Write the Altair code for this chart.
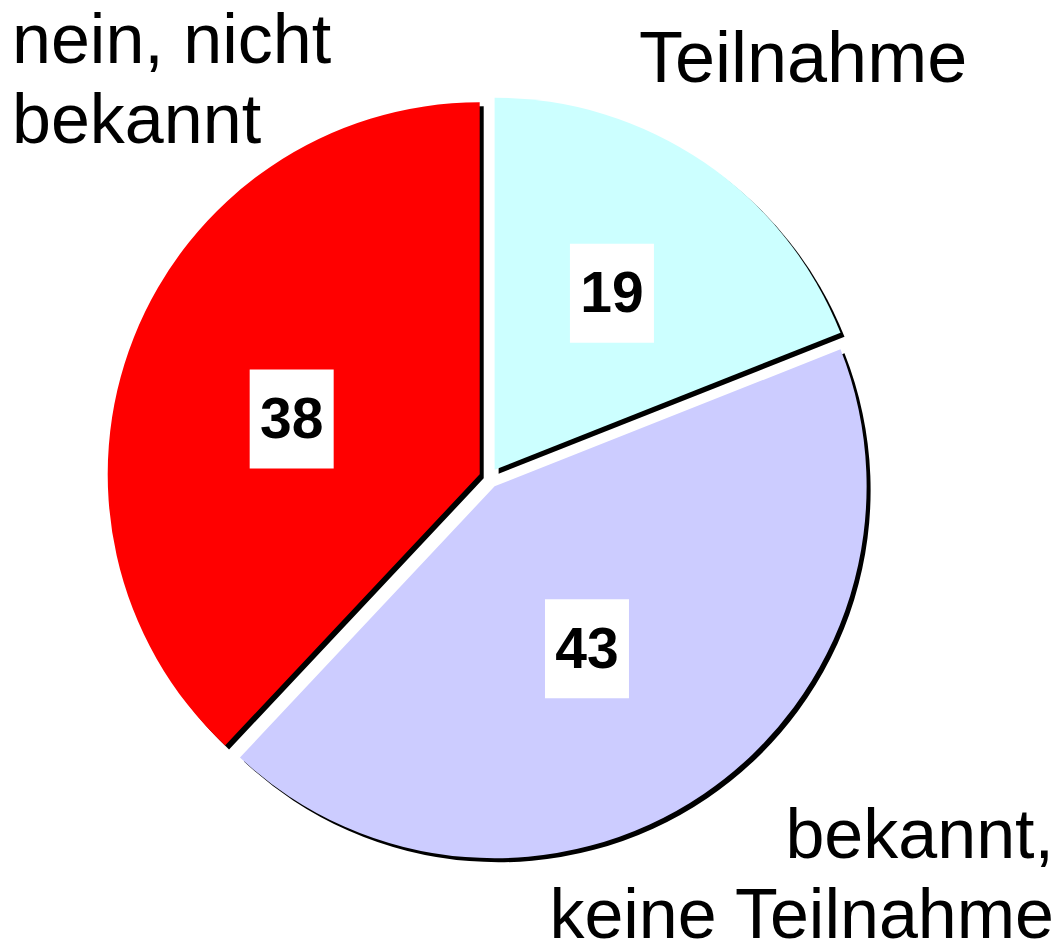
import math
import altair as alt
import pandas as pd

# ---- data ----
categories = ["Teilnahme", "bekannt, keine Teilnahme", "nein, nicht bekannt"]
display_labels = ["Teilnahme", "bekannt,\nkeine Teilnahme", "nein, nicht\nbekannt"]
values = [19, 43, 38]
colors = ["#CCFFFF", "#CCCCFF", "#FF0000"]

df = pd.DataFrame({"cat": categories, "value": values, "idx": list(range(len(values)))})

# ---- style / geometry ----
W, H = 1048, 936
CX, CY, R = 481, 470, 372
EXPLODE = 10
SHADOW = 4
LABEL_DIST = [212, 187, 196]      # distance of each value box from its slice tip
LABEL_TURN = [-0.6, 4.6, -5.2]    # small angular nudge (degrees) of each value box
BOX_W, BOX_H = 84, 99
FONT = "Liberation Sans"

# explosion direction of every slice (from its mid angle)
total = sum(values)
mids = []
acc = 0
for v in values:
    mids.append((acc + v / 2) / total * 2 * math.pi)
    acc += v

# offset of the pie centre from the default (middle of the plot)
OX, OY = CX - W / 2, CY - H / 2

theta_enc = alt.Theta("value:Q", stack=True)
order_enc = alt.Order("idx:Q")
color_enc = alt.Color("cat:N", scale=alt.Scale(domain=categories, range=colors), legend=None)

pie = alt.Chart(df)

shadow_layers = []
slice_layers = []
for i, m in enumerate(mids):
    dx = EXPLODE * math.sin(m)
    dy = -EXPLODE * math.cos(m)
    only_i = alt.condition(alt.datum.idx == i, alt.value(1), alt.value(0))
    shadow_layers.append(
        pie.mark_arc(radius=R, color="black",
                     xOffset=OX + dx + SHADOW, yOffset=OY + dy + SHADOW)
        .encode(theta=theta_enc, order=order_enc, opacity=only_i)
    )
    slice_layers.append(
        pie.mark_arc(radius=R, xOffset=OX + dx, yOffset=OY + dy)
        .encode(theta=theta_enc, order=order_enc, color=color_enc, opacity=only_i)
    )

dist_expr = "[" + ",".join(str(d) for d in LABEL_DIST) + "][datum.idx]"
turn_expr = "[" + ",".join(str(t) for t in LABEL_TURN) + "][datum.idx] * PI / 180"

lab = (
    alt.Chart(df)
    .transform_window(cum="sum(value)", sort=[alt.SortField("idx")], frame=[None, 0])
    .transform_joinaggregate(total="sum(value)")
    .transform_calculate(mid="(datum.cum - datum.value/2) / datum.total * 2 * PI")
    .transform_calculate(la=f"datum.mid + {turn_expr}", ld=dist_expr)
    .transform_calculate(
        lx=f"{CX} + {EXPLODE} * sin(datum.mid) + datum.ld * sin(datum.la)",
        ly=f"{CY} - {EXPLODE} * cos(datum.mid) - datum.ld * cos(datum.la)",
    )
    .transform_calculate(
        bx1=f"datum.lx - {BOX_W / 2}",
        bx2=f"datum.lx + {BOX_W / 2}",
        by1=f"datum.ly - {BOX_H / 2}",
        by2=f"datum.ly + {BOX_H / 2}",
    )
)

boxes = lab.mark_rect(color="white").encode(
    x=alt.X("bx1:Q", scale=None, axis=None),
    x2="bx2:Q",
    y=alt.Y("by1:Q", scale=None, axis=None),
    y2="by2:Q",
)

numbers = lab.mark_text(
    font=FONT, fontSize=57, fontWeight="bold", color="black",
    align="center", baseline="middle", dy=2,
).encode(
    x=alt.X("lx:Q", scale=None, axis=None),
    y=alt.Y("ly:Q", scale=None, axis=None),
    text=alt.Text("value:Q"),
)


def cat_label(i, x, y, align, size=70):
    return (
        alt.Chart(pd.DataFrame({"t": [display_labels[i]]}))
        .mark_text(
            font=FONT, fontSize=size, color="black", align=align,
            baseline="alphabetic", lineBreak="\n", lineHeight=80,
        )
        .encode(text="t:N", x=alt.value(x), y=alt.value(y))
    )


lab_teil = cat_label(0, 631, 74, "left", 72)
lab_bek = cat_label(1, 1046, 850, "right", 70)
lab_nein = cat_label(2, 4, 55, "left", 70)

chart = (
    alt.layer(*shadow_layers, *slice_layers, boxes, numbers, lab_teil, lab_bek, lab_nein)
    .properties(width=W, height=H, autosize=alt.AutoSizeParams(type="none"), padding=0)
    .configure_view(stroke=None)
)

chart.save("out.html", embed_options={"renderer": "svg", "actions": False})
